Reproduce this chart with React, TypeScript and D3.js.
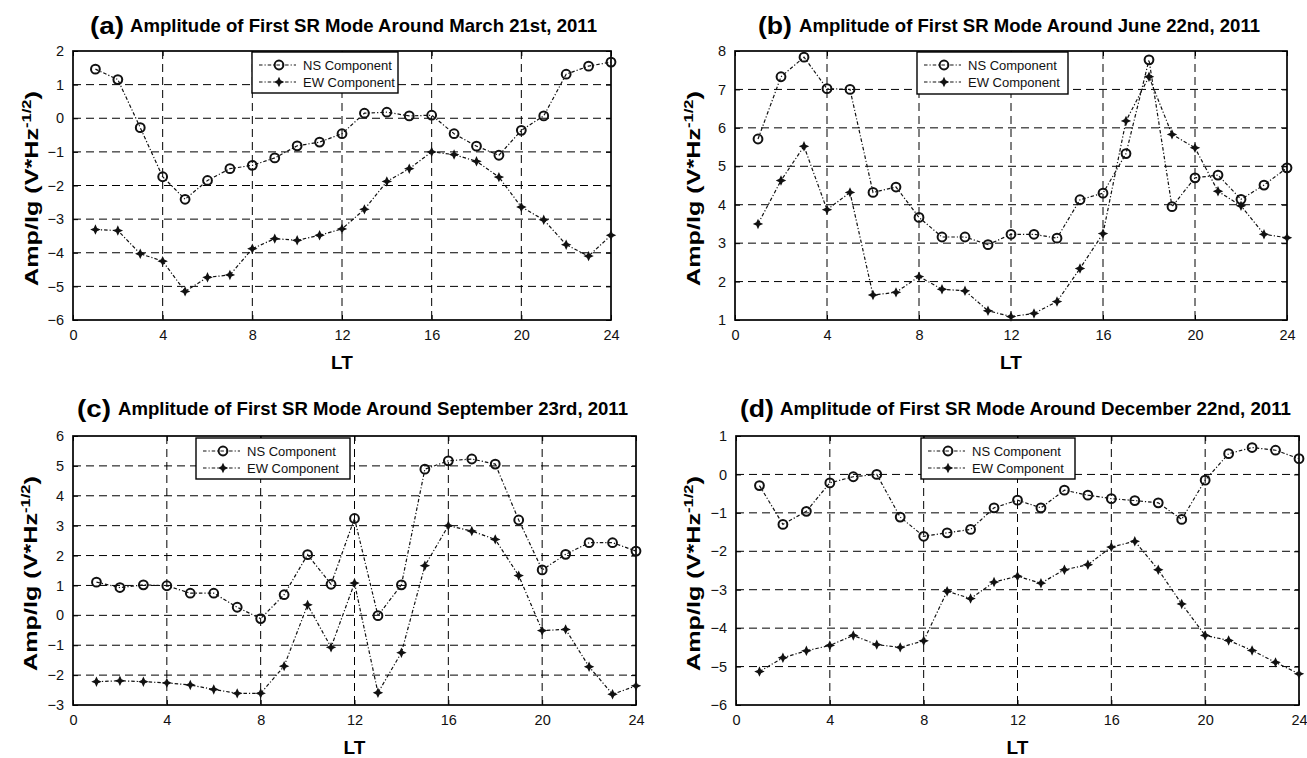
import React, { useEffect, useRef } from 'react';
import * as d3 from 'd3';

// local time (hours) and axis ticks
const hours = [1, 2, 3, 4, 5, 6, 7, 8, 9, 10, 11, 12, 13, 14, 15, 16, 17, 18, 19, 20, 21, 22, 23, 24];
const xTicks = [0, 4, 8, 12, 16, 20, 24];

// (a) March 21st
const marchNS = [1.46, 1.15, -0.28, -1.74, -2.41, -1.85, -1.5, -1.4, -1.18, -0.82, -0.71, -0.46, 0.15, 0.18, 0.07, 0.09, -0.46, -0.83, -1.1, -0.36, 0.07, 1.31, 1.55, 1.67];
const marchEW = [-3.31, -3.34, -4.03, -4.25, -5.15, -4.73, -4.66, -3.88, -3.58, -3.63, -3.48, -3.29, -2.71, -1.88, -1.5, -1.0, -1.08, -1.28, -1.75, -2.64, -3.02, -3.76, -4.1, -3.48];

// (b) June 22nd
const juneNS = [5.71, 7.33, 7.84, 7.02, 7.0, 4.32, 4.46, 3.67, 3.16, 3.16, 2.96, 3.23, 3.23, 3.13, 4.13, 4.3, 5.33, 7.77, 3.95, 4.7, 4.77, 4.14, 4.51, 4.96];
const juneEW = [3.5, 4.63, 5.52, 3.87, 4.32, 1.65, 1.72, 2.13, 1.8, 1.76, 1.24, 1.09, 1.17, 1.48, 2.34, 3.25, 6.18, 7.33, 5.83, 5.48, 4.35, 3.97, 3.23, 3.14];

// (c) September 23rd
const septNS = [1.11, 0.93, 1.02, 0.99, 0.74, 0.74, 0.27, -0.11, 0.69, 2.03, 1.04, 3.24, -0.01, 1.02, 4.89, 5.17, 5.23, 5.06, 3.19, 1.52, 2.04, 2.43, 2.43, 2.15];
const septEW = [-2.22, -2.19, -2.22, -2.26, -2.33, -2.48, -2.61, -2.61, -1.7, 0.35, -1.07, 1.08, -2.59, -1.25, 1.66, 3.0, 2.82, 2.54, 1.33, -0.51, -0.47, -1.72, -2.64, -2.36];

// (d) December 22nd
const decNS = [-0.29, -1.3, -0.96, -0.22, -0.06, 0.0, -1.11, -1.61, -1.52, -1.43, -0.87, -0.67, -0.87, -0.41, -0.54, -0.63, -0.68, -0.74, -1.17, -0.15, 0.54, 0.7, 0.63, 0.41];
const decEW = [-5.13, -4.77, -4.59, -4.45, -4.19, -4.43, -4.5, -4.33, -3.04, -3.23, -2.8, -2.65, -2.83, -2.48, -2.35, -1.89, -1.74, -2.48, -3.37, -4.19, -4.32, -4.58, -4.89, -5.19];

const letters = ['(a)', '(b)', '(c)', '(d)'];
const titles = [
  'Amplitude of First SR Mode Around March 21st, 2011',
  'Amplitude of First SR Mode Around June 22nd, 2011',
  'Amplitude of First SR Mode Around September 23rd, 2011',
  'Amplitude of First SR Mode Around December 22nd, 2011',
];
const yDomains = [[-6, 2], [1, 8], [-3, 6], [-6, 1]];
const legendLabels = ['NS Component', 'EW Component'];
const xLabel = 'LT';

const W = 1307, H = 758;
const FONT = '"Liberation Sans", Arial, Helvetica, sans-serif';

// panel placement (pixels)
const layout = [
  { l: 73, r: 611, t: 51, b: 320, titleY: 32, letterX: 90, mainX: 130, mainW: 467, lgX: 252, lgY: 52, lgW: 146, lgH: 41, ylX: 38 },
  { l: 735, r: 1287, t: 51, b: 320, titleY: 32, letterX: 758, mainX: 799, mainW: 461, lgX: 917, lgY: 52, lgW: 151, lgH: 42, ylX: 700 },
  { l: 73, r: 636, t: 436, b: 705, titleY: 415, letterX: 77, mainX: 118, mainW: 510, lgX: 196, lgY: 438, lgW: 154, lgH: 41, ylX: 37 },
  { l: 736, r: 1299, t: 436, b: 705, titleY: 415, letterX: 740, mainX: 780, mainW: 511, lgX: 921, lgY: 438, lgW: 154, lgH: 41, ylX: 700 },
];

const seriesNS = [marchNS, juneNS, septNS, decNS];
const seriesEW = [marchEW, juneEW, septEW, decEW];

const starPath = (r: number) => {
  const ri = r * 0.45;
  const pts: string[] = [];
  for (let i = 0; i < 8; i++) {
    const a = (Math.PI / 4) * i - Math.PI / 2;
    const rr = i % 2 === 0 ? r : ri;
    pts.push(`${(rr * Math.cos(a)).toFixed(2)},${(rr * Math.sin(a)).toFixed(2)}`);
  }
  return 'M' + pts.join('L') + 'Z';
};

const LINE_DASH = '3.5,2,1.2,2';

export default function App() {
  const ref = useRef<SVGSVGElement>(null);

  useEffect(() => {
    document.body.style.margin = '0';
    const svg = d3.select(ref.current);
    svg.selectAll('*').remove();
    svg.append('rect').attr('width', W).attr('height', H).attr('fill', '#fff');

    layout.forEach((p, i) => {
      const x = d3.scaleLinear().domain([0, 24]).range([p.l, p.r]);
      const y = d3.scaleLinear().domain(yDomains[i]).range([p.b, p.t]);
      const yTicks = d3.range(yDomains[i][0], yDomains[i][1] + 1);
      const g = svg.append('g').attr('font-family', FONT);

      //TITLE
      g.append('text')
        .attr('x', p.letterX).attr('y', p.titleY + 2)
        .attr('font-size', 24).attr('font-weight', 'bold')
        .attr('textLength', 34).attr('lengthAdjust', 'spacingAndGlyphs')
        .text(letters[i]);
      g.append('text')
        .attr('x', p.mainX).attr('y', p.titleY)
        .attr('font-size', 19).attr('font-weight', 'bold')
        .attr('textLength', p.mainW).attr('lengthAdjust', 'spacingAndGlyphs')
        .text(titles[i]);

      //GRID
      g.append('g').selectAll('line')
        .data(xTicks.slice(1, -1)).join('line')
        .attr('x1', d => x(d)).attr('x2', d => x(d))
        .attr('y1', p.t).attr('y2', p.b)
        .attr('stroke', '#000').attr('stroke-width', 1).attr('stroke-dasharray', '8,5');
      g.append('g').selectAll('line')
        .data(yTicks.slice(1, -1)).join('line')
        .attr('x1', p.l).attr('x2', p.r)
        .attr('y1', d => y(d)).attr('y2', d => y(d))
        .attr('stroke', '#000').attr('stroke-width', 1).attr('stroke-dasharray', '8,5');

      //AXES (ticks inside like the original)
      const ax = g.append('g');
      ax.append('g').attr('transform', `translate(0,${p.b})`)
        .call(d3.axisBottom(x).tickValues(xTicks).tickSize(-5).tickPadding(10).tickFormat(d3.format('d')))
        .call(s => s.select('.domain').remove());
      ax.append('g').attr('transform', `translate(0,${p.t})`)
        .call(d3.axisTop(x).tickValues(xTicks).tickSize(-5).tickFormat(() => ''))
        .call(s => s.select('.domain').remove());
      ax.append('g').attr('transform', `translate(${p.l},0)`)
        .call(d3.axisLeft(y).tickValues(yTicks).tickSize(-5).tickPadding(9).tickFormat(d3.format('d')))
        .call(s => s.select('.domain').remove());
      ax.append('g').attr('transform', `translate(${p.r},0)`)
        .call(d3.axisRight(y).tickValues(yTicks).tickSize(-5).tickFormat(() => ''))
        .call(s => s.select('.domain').remove());
      ax.selectAll('text').attr('font-family', FONT).attr('font-size', 14.5).attr('fill', '#111');
      ax.selectAll('line').attr('stroke', '#000');

      g.append('rect')
        .attr('x', p.l).attr('y', p.t).attr('width', p.r - p.l).attr('height', p.b - p.t)
        .attr('fill', 'none').attr('stroke', '#000').attr('stroke-width', 1.7);

      //AXIS LABELS
      g.append('text')
        .attr('x', (p.l + p.r) / 2).attr('y', p.b + 49)
        .attr('text-anchor', 'middle').attr('font-size', 19).attr('font-weight', 'bold')
        .text(xLabel);
      const cy = (p.t + p.b) / 2 + 3;
      const yl = g.append('text')
        .attr('transform', `translate(${p.ylX},${cy}) rotate(-90)`)
        .attr('text-anchor', 'middle').attr('font-size', 19).attr('font-weight', 'bold');
      yl.append('tspan').text('Amp/lg (V*Hz');
      yl.append('tspan').attr('dy', -7).attr('font-size', 12.5).text('-1/2');
      yl.append('tspan').attr('dy', 7).text(')');
      // stretch along its length to match the original's tall label
      const len = (yl.node() as SVGTextElement).getComputedTextLength();
      if (len > 0) {
        yl.attr('transform', `translate(${p.ylX},${cy}) rotate(-90) scale(${195 / len},1)`);
      }

      //LINES
      const line = d3.line<number>().x((_, k) => x(hours[k])).y(d => y(d));
      [seriesNS[i], seriesEW[i]].forEach(vals => {
        g.append('path').datum(vals)
          .attr('d', line).attr('fill', 'none')
          .attr('stroke', '#111').attr('stroke-width', 1.2)
          .attr('stroke-dasharray', LINE_DASH);
      });

      //MARKERS
      g.append('g').selectAll('circle')
        .data(seriesNS[i]).join('circle')
        .attr('cx', (_, k) => x(hours[k])).attr('cy', d => y(d)).attr('r', 4.4)
        .attr('fill', 'none').attr('stroke', '#111').attr('stroke-width', 2);
      g.append('g').selectAll('path')
        .data(seriesEW[i]).join('path')
        .attr('transform', (d, k) => `translate(${x(hours[k])},${y(d)})`)
        .attr('d', starPath(5.2)).attr('fill', '#111');

      //LEGEND
      const lg = g.append('g').attr('transform', `translate(${p.lgX},${p.lgY})`);
      lg.append('rect').attr('width', p.lgW).attr('height', p.lgH)
        .attr('fill', '#fff').attr('stroke', '#000').attr('stroke-width', 1.4);
      legendLabels.forEach((lab, k) => {
        const yy = k === 0 ? 13 : 30;
        lg.append('line').attr('x1', 7).attr('x2', 44).attr('y1', yy).attr('y2', yy)
          .attr('stroke', '#111').attr('stroke-width', 1.2).attr('stroke-dasharray', LINE_DASH);
        if (k === 0) {
          lg.append('circle').attr('cx', 27).attr('cy', yy).attr('r', 4.4)
            .attr('fill', 'none').attr('stroke', '#111').attr('stroke-width', 2);
        } else {
          lg.append('path').attr('transform', `translate(27,${yy})`).attr('d', starPath(5.2)).attr('fill', '#111');
        }
        lg.append('text').attr('x', 51).attr('y', yy + 4.5)
          .attr('font-size', 13).attr('fill', '#111').text(lab);
      });
    });
  }, []);

  return <svg ref={ref} width={W} height={H} style={{ display: 'block' }} />;
}
